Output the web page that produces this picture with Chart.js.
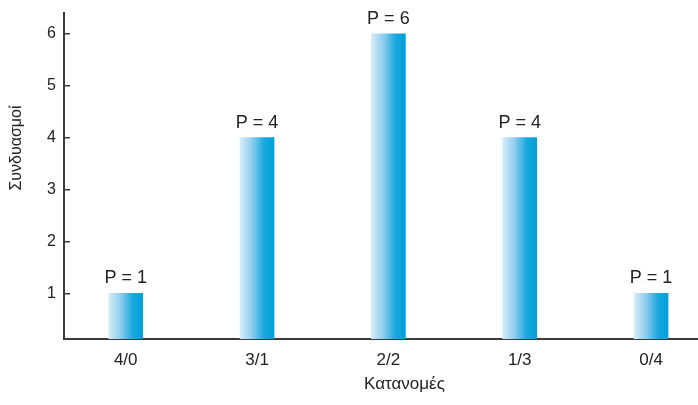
<!DOCTYPE html>
<html>
<head>
<meta charset="utf-8">
<script src="https://cdn.jsdelivr.net/npm/chart.js@4.4.0/dist/chart.umd.min.js"></script>
<style>
  html, body { margin: 0; padding: 0; background: #fff; }
  #wrap { width: 698px; height: 405px; }
</style>
</head>
<body>
<div id="wrap"><canvas id="combChart"></canvas></div>
<script>
const categories = ["4/0", "3/1", "2/2", "1/3", "0/4"];
const combinations = [1, 4, 6, 4, 1];
const barLabels = ["P = 1", "P = 4", "P = 6", "P = 4", "P = 1"];
const yTicks = [1, 2, 3, 4, 5, 6];
const xTitle = "Κατανομές";
const yTitle = "Συνδυασμοί";

const FONT = "'Liberation Sans', Arial, Helvetica, sans-serif";
const TEXT = "#222";
const AXIS = "#3a3a3a";

const ctx = document.getElementById("combChart").getContext("2d");

function makeGradient(c, cx, half) {
  const g = c.createLinearGradient(cx - half, 0, cx + half, 0);
  g.addColorStop(0, "#d6ecf8");
  g.addColorStop(0.35, "#8fcdee");
  g.addColorStop(0.7, "#1aa8de");
  g.addColorStop(1, "#009fd9");
  return g;
}

// scriptable fill, so every bar gets its own options object
function barFill(context) {
  const xScale = context.chart.scales.x;
  if (!xScale || context.dataIndex === undefined) return "#1aa8de";
  const cx = xScale.getPixelForValue(context.dataIndex);
  if (!isFinite(cx)) return "#1aa8de";
  return makeGradient(context.chart.ctx, cx, 17);
}

// re-apply the gradient from the final bar positions
const barGradientPlugin = {
  id: "barGradient",
  beforeDatasetsDraw(chart) {
    chart.getDatasetMeta(0).data.forEach(bar => {
      const half = bar.width / 2;
      if (!isFinite(bar.x) || !isFinite(half)) return;
      bar.options.backgroundColor = makeGradient(chart.ctx, bar.x, half);
    });
  }
};

// draws the "P = n" text above each bar
const barLabelPlugin = {
  id: "barLabels",
  afterDatasetsDraw(chart) {
    const c = chart.ctx;
    const meta = chart.getDatasetMeta(0);
    c.save();
    c.font = "18px " + FONT;
    c.fillStyle = TEXT;
    c.textAlign = "center";
    c.textBaseline = "alphabetic";
    meta.data.forEach((bar, i) => {
      c.fillText(barLabels[i], bar.x, bar.y - 10);
    });
    c.restore();
  }
};

// axis titles sit a bit off-centre in the original, so draw them by hand
const axisTitlePlugin = {
  id: "axisTitles",
  afterDraw(chart) {
    const c = chart.ctx;
    const area = chart.chartArea;
    c.save();
    c.fillStyle = TEXT;
    c.textAlign = "center";
    c.textBaseline = "middle";
    c.font = "17px " + FONT;
    c.fillText(xTitle, (area.left + area.right) / 2 + 24, chart.height - 21);
    c.font = "16px " + FONT;
    c.translate(17, (area.top + area.bottom) / 2 - 28);
    c.rotate(-Math.PI / 2);
    c.fillText(yTitle, 0, 0);
    c.restore();
  }
};

new Chart(ctx, {
  type: "bar",
  data: {
    datasets: [{
      label: yTitle,
      data: combinations.map((v, i) => ({ x: i, y: v })),
      backgroundColor: barFill,
      borderWidth: 0,
      barThickness: 34,
      clip: 0
    }]
  },
  plugins: [barGradientPlugin, barLabelPlugin, axisTitlePlugin],
  options: {
    responsive: true,
    maintainAspectRatio: false,
    animation: false,
    layout: { padding: { top: 13, right: 1, bottom: 0, left: 0 } },
    plugins: {
      legend: { display: false },
      tooltip: { enabled: false }
    },
    scales: {
      x: {
        type: "linear",
        offset: false,
        min: -0.47,
        max: 4.35,
        afterBuildTicks: axis => {
          axis.ticks = categories.map((_, i) => ({ value: i }));
        },
        afterFit: scale => {
          scale.height = 66;
          scale.paddingLeft = 0;
          scale.paddingRight = 0;
        },
        ticks: {
          autoSkip: false,
          padding: 11,
          color: TEXT,
          font: { family: FONT, size: 17 },
          callback: v => categories[v]
        },
        grid: { display: false, drawTicks: false, offset: false },
        border: { display: true, color: AXIS, width: 2 }
      },
      y: {
        min: 0.12,
        max: 6.4,
        afterBuildTicks: axis => {
          axis.ticks = yTicks.map(v => ({ value: v }));
        },
        afterFit: scale => {
          scale.width = 64;
          scale.paddingTop = 0;
          scale.paddingBottom = 0;
        },
        ticks: {
          padding: 14,
          color: TEXT,
          font: { family: FONT, size: 16 }
        },
        grid: {
          display: true,
          drawOnChartArea: false,
          drawTicks: true,
          tickLength: -6,
          color: AXIS,
          lineWidth: 1.5
        },
        border: { display: true, color: AXIS, width: 2 }
      }
    }
  }
});
</script>
</body>
</html>
